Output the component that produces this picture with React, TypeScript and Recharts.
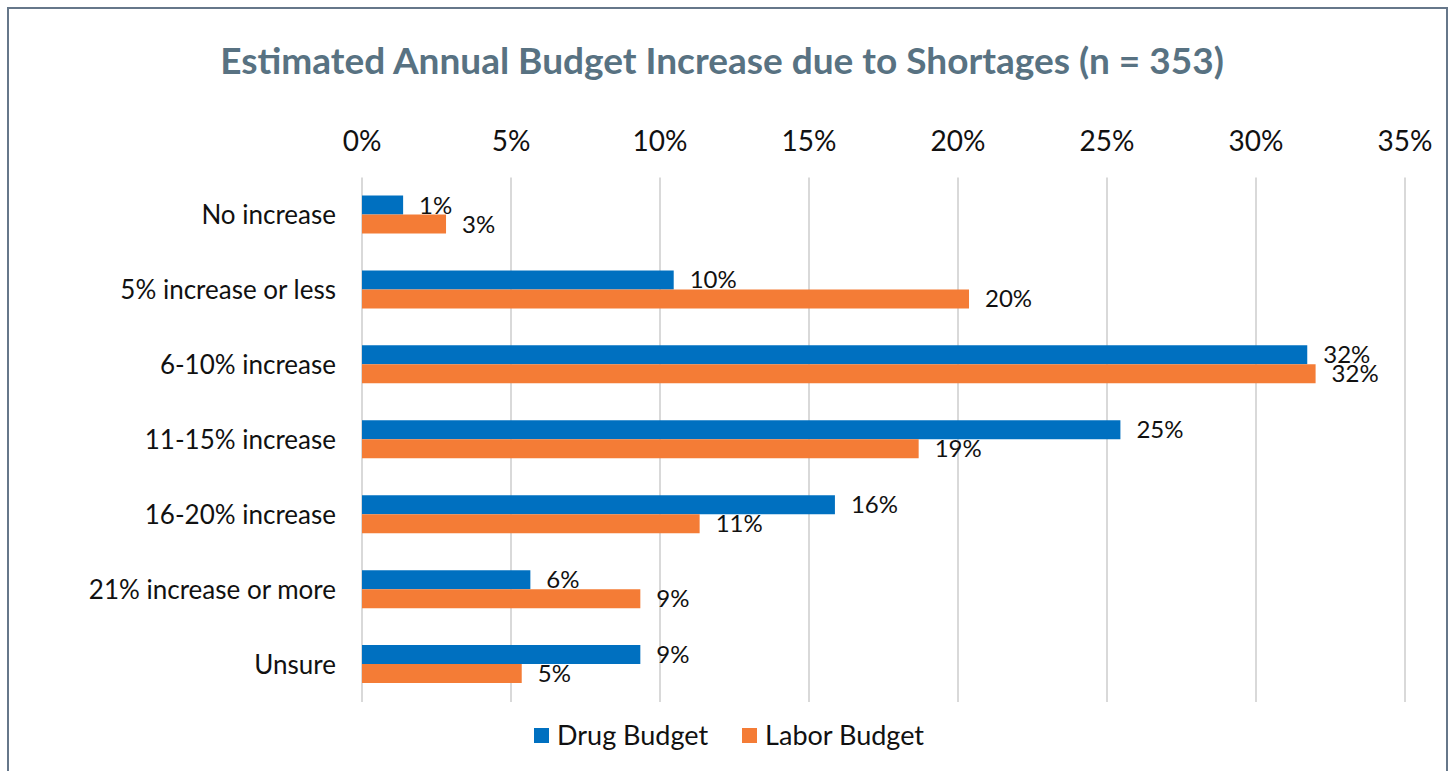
import React from 'react';
import { BarChart, Bar, XAxis, YAxis, CartesianGrid, LabelList, Legend } from 'recharts';

const categories = [
  'No increase',
  '5% increase or less',
  '6-10% increase',
  '11-15% increase',
  '16-20% increase',
  '21% increase or more',
  'Unsure',
];
const drugBudget = [1.38, 10.46, 31.72, 25.45, 15.87, 5.65, 9.34];
const laborBudget = [2.82, 20.37, 32.0, 18.68, 11.33, 9.34, 5.36];
const xTicks = [0, 5, 10, 15, 20, 25, 30, 35];
const seriesNames = ['Drug Budget', 'Labor Budget'];
const seriesColors = ['#0070C0', '#F47C36'];

const data = categories.map((c, i) => ({ category: c, drug: drugBudget[i], labor: laborBudget[i] }));

const FONT = 'Lato, "Open Sans", sans-serif';

const renderLegend = (props: any) => {
  const payload = props.payload || [];
  return (
    <div style={{ display: 'flex', alignItems: 'center', fontFamily: FONT, fontSize: 27, color: '#111', lineHeight: '32px', height: 32 }}>
      {payload.map((entry: any, i: number) => (
        <div key={i} style={{ display: 'flex', alignItems: 'center', marginRight: 34 }}>
          <span style={{ display: 'inline-block', width: 15, height: 15, background: entry.color, marginRight: 8 }} />
          <span>{entry.value}</span>
        </div>
      ))}
    </div>
  );
};

export default function App() {
  return (
    <div style={{ position: 'absolute', left: 0, top: 0, width: 1453, height: 771, background: '#fff', overflow: 'hidden' }}>
      <div
        style={{
          position: 'absolute',
          left: 7,
          top: 7,
          width: 1441,
          height: 764,
          boxSizing: 'border-box',
          border: '2px solid #66778a',
          borderBottom: 'none',
        }}
      />
      <div
        style={{
          position: 'absolute',
          left: 0,
          top: 38,
          width: 1444,
          textAlign: 'center',
          fontFamily: FONT,
          fontWeight: 700,
          fontSize: 37,
          lineHeight: '44px',
          color: '#587282',
        }}
      >
        Estimated Annual Budget Increase due to Shortages (n = 353)
      </div>
      <div style={{ position: 'absolute', left: 0, top: 0 }}>
        <BarChart
          width={1453}
          height={771}
          data={data}
          layout="vertical"
          margin={{ top: 137.5, right: 48, bottom: 20, left: 0 }}
          barGap={0}
        >
          <CartesianGrid horizontal={false} stroke="#d9d9d9" strokeWidth={2} />
          <XAxis
            type="number"
            orientation="top"
            domain={[0, 35]}
            ticks={xTicks}
            tickFormatter={(v: number) => `${v}%`}
            axisLine={false}
            tickLine={false}
            tickSize={0}
            tickMargin={27}
            height={40}
            interval={0}
            tick={{ fontSize: 28, fill: '#111', fontFamily: FONT }}
          />
          <YAxis
            type="category"
            dataKey="category"
            width={362}
            axisLine={false}
            tickLine={false}
            tickSize={0}
            tickMargin={26}
            interval={0}
            tick={{ fontSize: 26, fill: '#111', fontFamily: FONT }}
          />
          <Legend
            verticalAlign="bottom"
            content={renderLegend}
            wrapperStyle={{ left: 534, width: 500, paddingTop: 17 }}
          />
          <Bar dataKey="drug" name={seriesNames[0]} fill={seriesColors[0]} barSize={19} isAnimationActive={false}>
            <LabelList
              dataKey="drug"
              position="right"
              offset={16}
              formatter={(v: number) => `${Math.round(v)}%`}
              style={{ fontSize: 24, fill: '#111', fontFamily: FONT }}
            />
          </Bar>
          <Bar dataKey="labor" name={seriesNames[1]} fill={seriesColors[1]} barSize={19} isAnimationActive={false}>
            <LabelList
              dataKey="labor"
              position="right"
              offset={16}
              formatter={(v: number) => `${Math.round(v)}%`}
              style={{ fontSize: 24, fill: '#111', fontFamily: FONT }}
            />
          </Bar>
        </BarChart>
      </div>
    </div>
  );
}
